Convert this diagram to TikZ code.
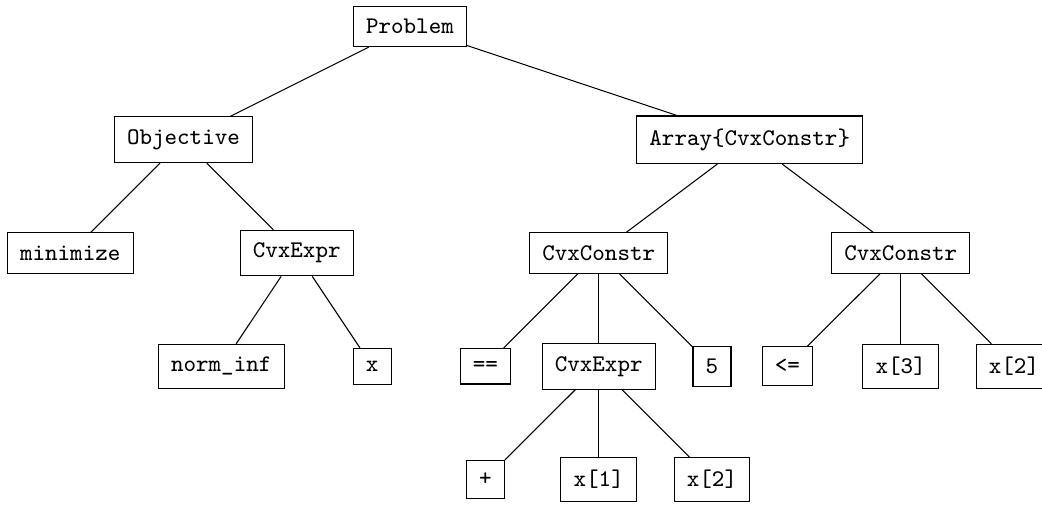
\documentclass[tikz,border=0pt]{standalone}
\usepackage{fontspec}
\usepackage{tikz}

\begin{document}
\begin{tikzpicture}[box/.style={draw,inner sep=4.8pt,font=\small\ttfamily}]
    \useasboundingbox (-5.43,0.351) rectangle (8.371,-6.325);
    \node [box] (prob) at (0,0) {Problem};
    \node [box] (obj) at (-3,-1.5) {Objective};
    \node [box] (cons) at (4.5,-1.5) {Array\{CvxConstr\}};
    \node [box] (minz) at (-4.5,-3) {minimize};
    \node [box] (exprA) at (-1.5,-3) {CvxExpr};
    \node [box] (conA) at (2.5,-3) {CvxConstr};
    \node [box] (conB) at (6.5,-3) {CvxConstr};
    \node [box] (norm) at (-2.5,-4.5) {norm\_inf};
    \node [box] (xvar) at (-0.5,-4.5) {x};
    \node [box] (eq) at (1,-4.5) {==};
    \node [box] (exprB) at (2.5,-4.5) {CvxExpr};
    \node [box] (five) at (4,-4.5) {5};
    \node [box] (leq) at (5,-4.5) {<=};
    \node [box] (xthree) at (6.5,-4.5) {x[3]};
    \node [box] (xtwoA) at (8,-4.5) {x[2]};
    \node [box] (plus) at (1,-6) {+};
    \node [box] (xone) at (2.5,-6) {x[1]};
    \node [box] (xtwoB) at (4,-6) {x[2]};
    \draw (prob) -- (obj);
    \draw (prob) -- (cons);
    \draw (obj) -- (minz);
    \draw (obj) -- (exprA);
    \draw (exprA) -- (norm);
    \draw (exprA) -- (xvar);
    \draw (cons) -- (conA);
    \draw (cons) -- (conB);
    \draw (conA) -- (eq);
    \draw (conA) -- (exprB);
    \draw (conA) -- (five);
    \draw (exprB) -- (plus);
    \draw (exprB) -- (xone);
    \draw (exprB) -- (xtwoB);
    \draw (conB) -- (leq);
    \draw (conB) -- (xthree);
    \draw (conB) -- (xtwoA);
\end{tikzpicture}
\end{document}
